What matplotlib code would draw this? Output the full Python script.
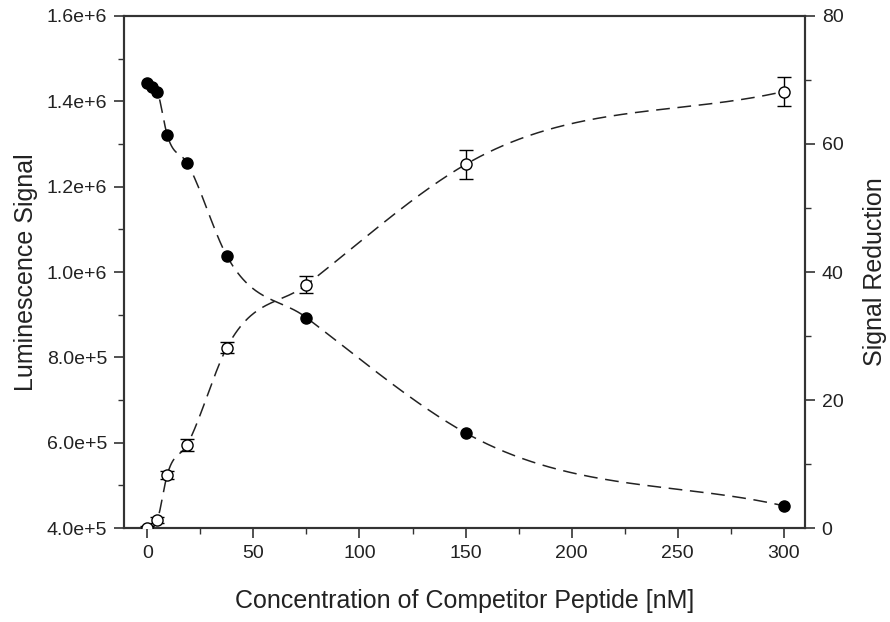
import numpy as np
import matplotlib
matplotlib.use("Agg")
import matplotlib.pyplot as plt
from matplotlib.ticker import MultipleLocator, FuncFormatter

plt.rcParams['font.family'] = ['Liberation Sans', 'DejaVu Sans']

# Data
conc_lum = [0, 2.34, 4.69, 9.375, 18.75, 37.5, 75, 150, 300]
lum = [1.443e6, 1.434e6, 1.422e6, 1.321e6, 1.2555e6, 1.0375e6, 0.893e6, 0.623e6, 0.452e6]

conc_red = [0, 4.69, 9.375, 18.75, 37.5, 75, 150, 300]
reduction = [0.0, 1.25, 8.3, 13.0, 28.2, 38.0, 56.8, 68.2]
reduction_err = [0.3, 0.5, 0.6, 0.9, 0.9, 1.3, 2.2, 2.2]


def smooth_curve(x, y, n=500):
    """Hermite curve through the data points (3-point parabolic slopes)."""
    x = np.asarray(x, float)
    y = np.asarray(y, float)
    h = np.diff(x)
    d = np.diff(y) / h
    m = np.zeros_like(y)
    for k in range(1, len(x) - 1):
        m[k] = (h[k] * d[k - 1] + h[k - 1] * d[k]) / (h[k - 1] + h[k])
    m[0] = (3 * d[0] - m[1]) / 2
    m[-1] = d[-1]
    xs = np.linspace(x[0], x[-1], n)
    idx = np.clip(np.searchsorted(x, xs) - 1, 0, len(x) - 2)
    t = (xs - x[idx]) / h[idx]
    h00 = 2 * t**3 - 3 * t**2 + 1
    h10 = t**3 - 2 * t**2 + t
    h01 = -2 * t**3 + 3 * t**2
    h11 = t**3 - t**2
    ys = h00 * y[idx] + h10 * h[idx] * m[idx] + h01 * y[idx + 1] + h11 * h[idx] * m[idx + 1]
    return xs, ys


fig = plt.figure(figsize=(8.9, 6.22), dpi=100)
ax = fig.add_axes([0.1393, 0.1511, 0.7652, 0.8232])
ax2 = ax.twinx()

axis_col = '#333333'
for a in (ax, ax2):
    for s in a.spines.values():
        s.set_color(axis_col)
        s.set_linewidth(1.5)

# Left series
xs, ys = smooth_curve(conc_lum, lum)
ax.plot(xs, ys, color='#222222', lw=1.1, dashes=(9, 5))
ax.plot(conc_lum, lum, 'o', color='black', markersize=8, zorder=5)

# Right series
xs2, ys2 = smooth_curve(conc_red, reduction)
ax2.plot(xs2, ys2, color='#222222', lw=1.1, dashes=(9, 5))
ax2.errorbar(conc_red, reduction, yerr=reduction_err, fmt='o', mfc='white',
             mec='black', ecolor='black', color='black', markersize=8,
             elinewidth=1.0, capsize=5, capthick=1.0, zorder=5)

ax.set_xlim(-11, 310)
ax.set_ylim(4e5, 1.6e6)
ax2.set_ylim(0, 80)

ax.xaxis.set_major_locator(MultipleLocator(50))
ax.xaxis.set_minor_locator(MultipleLocator(25))
ax.yaxis.set_major_locator(MultipleLocator(2e5))
ax.yaxis.set_minor_locator(MultipleLocator(1e5))
ax2.yaxis.set_major_locator(MultipleLocator(20))
ax2.yaxis.set_minor_locator(MultipleLocator(10))


def sci_fmt(v, pos):
    if v == 0:
        return '0'
    e = int(np.floor(np.log10(abs(v)) + 1e-9))
    mant = v / 10**e
    return f"{mant:.1f}e+{e}"


ax.yaxis.set_major_formatter(FuncFormatter(sci_fmt))

for a in (ax, ax2):
    a.tick_params(which='major', direction='out', length=7, width=1.2,
                  color=axis_col, labelsize=14, labelcolor='#222222', pad=5)
    a.tick_params(which='minor', direction='out', length=4, width=1.0,
                  color=axis_col)

ax.set_xlabel('Concentration of Competitor Peptide [nM]', fontsize=18,
              color='#222222', labelpad=20)
ax.set_ylabel('Luminescence Signal', fontsize=18, color='#222222', labelpad=6)
ax2.set_ylabel('Signal Reduction', fontsize=18, color='#222222', labelpad=14)

fig.savefig('out.png', dpi=100)
